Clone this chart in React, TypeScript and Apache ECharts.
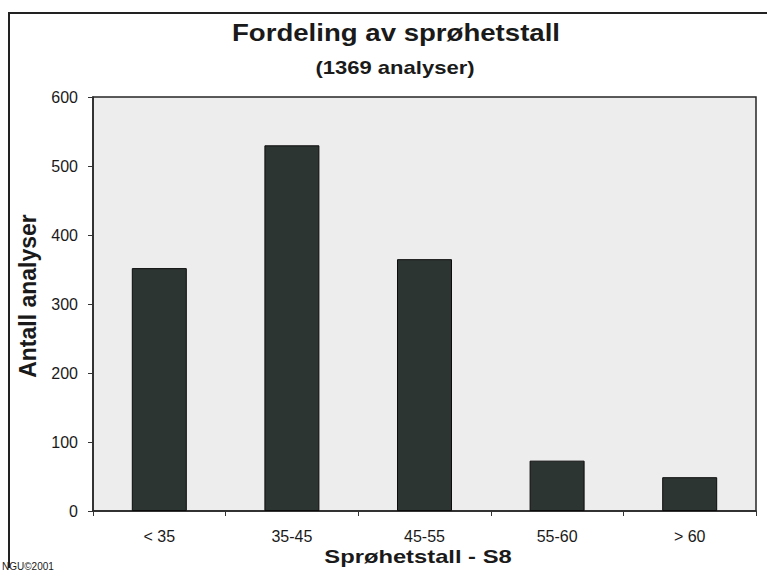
import React, { useEffect, useRef } from "react";
import * as echarts from "echarts";

// S8 brittleness classes and the number of analyses in each
const categories = ["< 35", "35-45", "45-55", "55-60", "> 60"];
const counts = [352, 530, 365, 73, 49];

// value axis range
const yMin = 0;
const yMax = 600;
const yStep = 100;

const titleText = "Fordeling av sprøhetstall";
const subtitleText = "(1369 analyser)";
const xName = "Sprøhetstall - S8";
const yName = "Antall analyser";
const credit = "NGU©2001";

const FONT = "'Liberation Sans', Arial, Helvetica, sans-serif";
const INK = "#1a1a1a";

export default function App() {
  const ref = useRef<HTMLDivElement>(null);

  useEffect(() => {
    if (!ref.current) return;
    const chart = echarts.init(ref.current, undefined, { renderer: "svg" });

    chart.setOption({
      animation: false,
      backgroundColor: "#ffffff",
      textStyle: { fontFamily: FONT },
      grid: {
        left: 93,
        right: 11,
        top: 97,
        bottom: 75,
        show: true,
        backgroundColor: "#ededed",
        borderColor: "#262626",
        borderWidth: 1.5,
      },
      xAxis: {
        type: "category",
        data: categories,
        boundaryGap: true,
        axisLine: { show: true, lineStyle: { color: "#262626", width: 1.5 } },
        axisTick: { show: true, length: 5, lineStyle: { color: "#333" } },
        axisLabel: { fontSize: 16, color: INK, margin: 17, fontFamily: FONT },
      },
      yAxis: {
        type: "value",
        min: yMin,
        max: yMax,
        interval: yStep,
        axisLine: { show: true, lineStyle: { color: "#262626", width: 1.5 } },
        axisTick: { show: true, length: 5, lineStyle: { color: "#333" } },
        axisLabel: { fontSize: 16, color: INK, margin: 15, fontFamily: FONT },
        splitLine: { show: false },
      },
      series: [
        {
          type: "bar",
          data: counts,
          barWidth: 55,
          itemStyle: {
            color: "#2d3532",
            borderColor: "#0c0c0c",
            borderWidth: 1,
          },
        },
      ],
      graphic: [
        // outer frame (left and top edges)
        {
          type: "polyline",
          shape: { points: [[9, 568], [9, 13], [767, 13]] },
          style: { stroke: "#222", lineWidth: 2, fill: null },
          silent: true,
        },
        {
          type: "text",
          x: 396,
          y: 33,
          scaleX: 1.2,
          style: {
            text: titleText,
            font: `bold 23px ${FONT}`,
            fill: INK,
            textAlign: "center",
            textVerticalAlign: "middle",
          },
        },
        {
          type: "text",
          x: 395,
          y: 67,
          scaleX: 1.16,
          style: {
            text: subtitleText,
            font: `bold 19px ${FONT}`,
            fill: INK,
            textAlign: "center",
            textVerticalAlign: "middle",
          },
        },
        {
          type: "text",
          x: 418,
          y: 557,
          scaleX: 1.25,
          style: {
            text: xName,
            font: `bold 19px ${FONT}`,
            fill: INK,
            textAlign: "center",
            textVerticalAlign: "middle",
          },
        },
        {
          type: "text",
          x: 28,
          y: 296,
          rotation: Math.PI / 2,
          style: {
            text: yName,
            font: `bold 23px ${FONT}`,
            fill: INK,
            textAlign: "center",
            textVerticalAlign: "middle",
          },
        },
        {
          type: "text",
          x: 2,
          y: 566,
          style: {
            text: credit,
            font: `10px ${FONT}`,
            fill: INK,
            textAlign: "left",
            textVerticalAlign: "middle",
          },
        },
      ],
    });

    return () => chart.dispose();
  }, []);

  return (
    <div
      ref={ref}
      style={{ position: "absolute", left: 0, top: 0, width: 767, height: 586, background: "#fff" }}
    />
  );
}
